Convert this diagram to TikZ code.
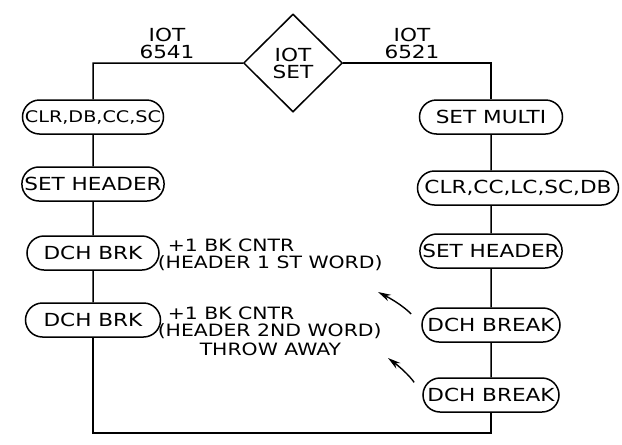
\documentclass[tikz,border=0pt]{standalone}
\usepackage{fontspec}
\newfontfamily\handfont[FakeStretch=1.2]{DejaVu Sans}
\usetikzlibrary{arrows.meta,shapes.geometric,shapes.misc}

\begin{document}
\begin{tikzpicture}[x=1pt,y=-1pt,line width=1.5pt,
  font=\handfont\fontsize{18}{17}\selectfont,
  box/.style={rounded rectangle,draw,minimum height=34,minimum width=#1,inner xsep=1pt,inner ysep=0pt},
  note/.style={align=left,inner sep=0pt,anchor=north west,font=\handfont\fontsize{17}{17.5}\selectfont},
  ptr/.style={-{Stealth[length=13pt,width=7pt]},line width=1.4pt,shorten <=15pt}]
  \useasboundingbox (0,0) rectangle (622,445);
  % decision and its two branches
  \node[diamond,draw,minimum width=99,minimum height=98,inner sep=0pt,align=center] (iotset) at (293,63) {IOT\\SET};
  \node[align=center,inner sep=0pt] (iotA) at (167,43) {IOT\\6541};
  \node[align=center,inner sep=0pt] (iotB) at (412,43) {IOT\\6521};
  \coordinate (tl) at (93,63);
  \coordinate (tr) at (491,63);
  \coordinate (bl) at (93,433);
  \coordinate (br) at (491,433);
  % left column
  \node[box=139,font=\handfont\fontsize{16}{17}\selectfont] (clrA) at (93,117) {CLR,DB,CC,SC};
  \node[box=137] (hdrA) at (93,184) {SET HEADER};
  \node[box=134] (brkA) at (93,253) {DCH BRK};
  \node[box=137] (brkB) at (93,320) {DCH BRK};
  % right column
  \node[box=145] (multi) at (491,117) {SET MULTI};
  \node[box=203] (clrB) at (518,188) {CLR,CC,LC,SC,DB};
  \node[box=135] (hdrB) at (491,251) {SET HEADER};
  \node[box=140] (brkC) at (491,325) {DCH BREAK};
  \node[box=138] (brkD) at (491,395) {DCH BREAK};
  % notes
  \node[note] (noteA) at (157,238) {\hspace*{10pt}+1 BK CNTR\\(HEADER 1 ST WORD)};
  \node[note] (noteB) at (157,306) {\hspace*{10pt}+1 BK CNTR\\(HEADER 2ND WORD)\\[1pt]\hspace*{42pt}THROW AWAY};
  \coordinate (tipA) at (378,292);
  \coordinate (tipB) at (388,358);
  % flow lines
  \draw (iotset.west) -- (tl) -- (clrA);
  \foreach \a/\b in {clrA/hdrA,hdrA/brkA,brkA/brkB}
    \draw (\a) -- (\b);
  \draw (brkB) -- (bl) -- (br) -- (brkD);
  \foreach \a/\b in {brkD/brkC,brkC/hdrB}
    \draw (\a) -- (\b);
  \draw (hdrB) -- (hdrB |- clrB.south);
  \draw (multi |- clrB.north) -- (multi);
  \draw (multi) -- (tr) -- (iotset.east);
  % pointers
  \draw[ptr] (brkC.west) to[bend right=10] (tipA);
  \draw[ptr] (brkD.west) to[bend right=10] (tipB);
\end{tikzpicture}
\end{document}
